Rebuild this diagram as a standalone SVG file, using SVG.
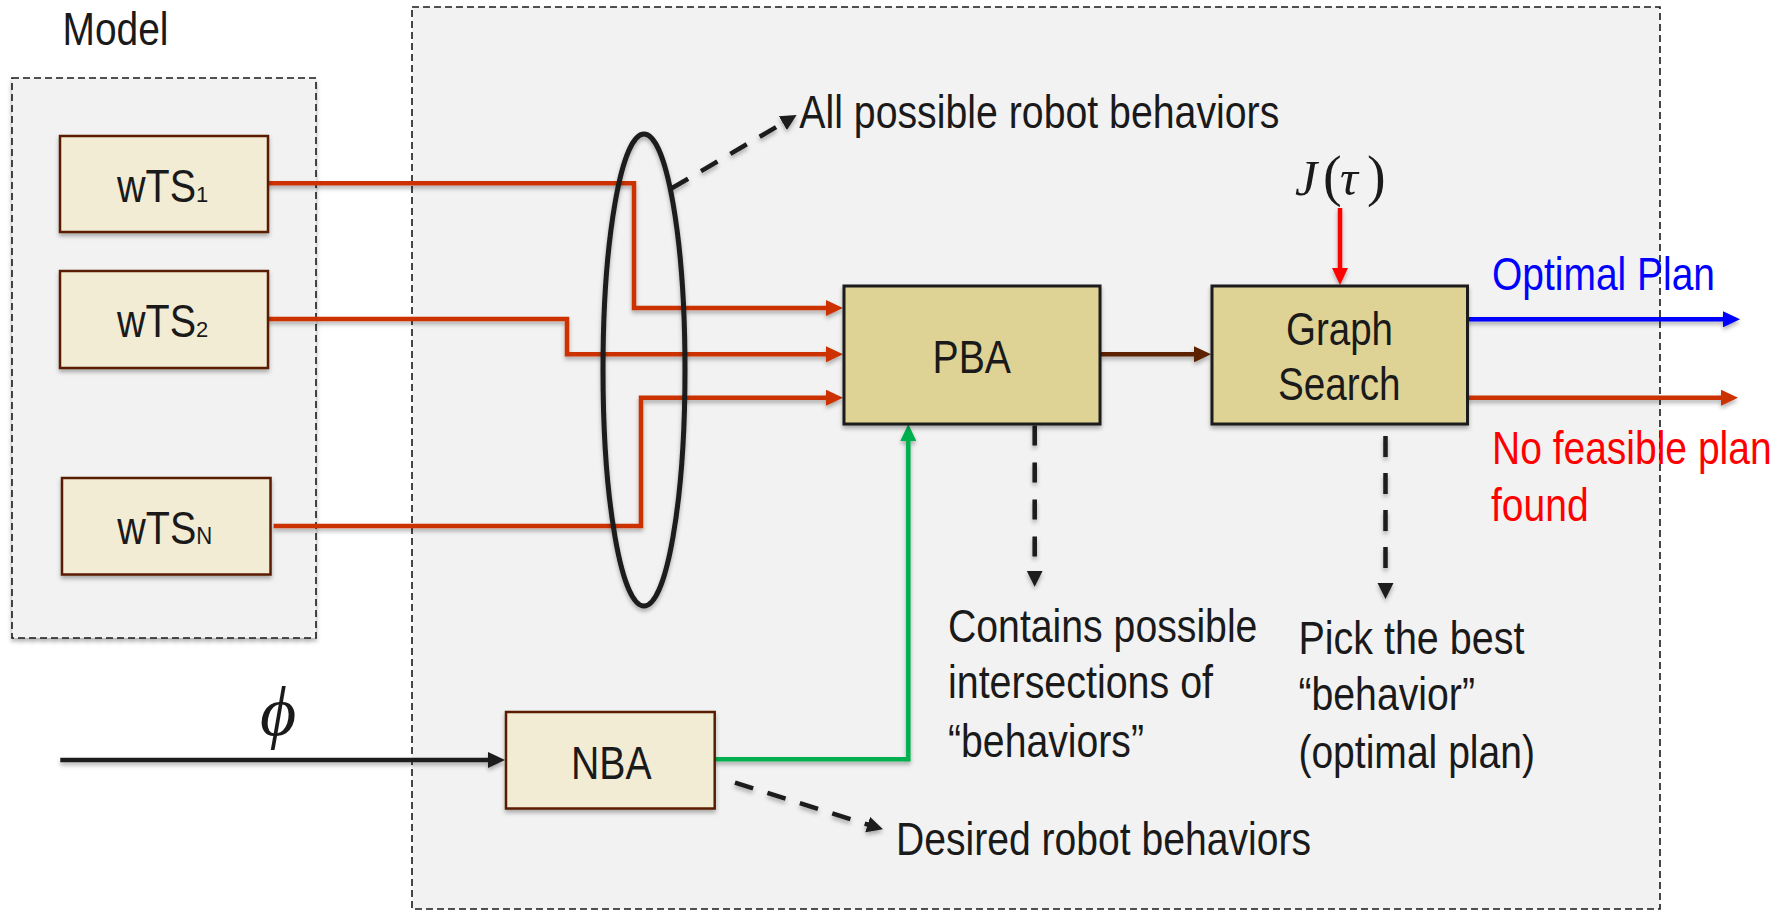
<svg xmlns="http://www.w3.org/2000/svg" width="1789" height="910" viewBox="0 0 1789 910">
  <defs>
    <!-- user-space region so that straight horizontal/vertical wires keep a non-empty filter area -->
    <filter id="shadow" filterUnits="userSpaceOnUse" x="0" y="0" width="1789" height="910">
      <feDropShadow dx="0" dy="3" stdDeviation="2" flood-color="#000" flood-opacity="0.3"/>
    </filter>
    <marker id="ah-orange" markerUnits="userSpaceOnUse" markerWidth="18" markerHeight="16" refX="5" refY="8" orient="auto">
      <path d="M0,0 L17,8 L0,16 z" fill="#cc3300"/>
    </marker>
    <marker id="ah-brown" markerUnits="userSpaceOnUse" markerWidth="18" markerHeight="16" refX="5" refY="8" orient="auto">
      <path d="M0,0 L17,8 L0,16 z" fill="#5c2000"/>
    </marker>
    <marker id="ah-blue" markerUnits="userSpaceOnUse" markerWidth="18" markerHeight="16" refX="5" refY="8" orient="auto">
      <path d="M0,0 L17,8 L0,16 z" fill="#0000ff"/>
    </marker>
    <marker id="ah-red" markerUnits="userSpaceOnUse" markerWidth="18" markerHeight="16" refX="5" refY="8" orient="auto">
      <path d="M0,0 L17,8 L0,16 z" fill="#ff0000"/>
    </marker>
    <marker id="ah-green" markerUnits="userSpaceOnUse" markerWidth="18" markerHeight="16" refX="5" refY="8" orient="auto">
      <path d="M0,0 L17,8 L0,16 z" fill="#00b050"/>
    </marker>
    <marker id="ah-black" markerUnits="userSpaceOnUse" markerWidth="18" markerHeight="16" refX="5" refY="8" orient="auto">
      <path d="M0,0 L17,8 L0,16 z" fill="#1a1a1a"/>
    </marker>
    <marker id="ah-dash" markerUnits="userSpaceOnUse" markerWidth="17" markerHeight="17" refX="4" refY="8" orient="auto">
      <path d="M0,0 L16,8 L0,16 z" fill="#1a1a1a"/>
    </marker>
  </defs>
  <style>
    .frame { fill: #f2f2f2; stroke: #1a1a1a; stroke-width: 1.6; stroke-dasharray: 7 4; }
    .box-light { fill: #f2ecd5; stroke: #5a1e00; stroke-width: 2.5; filter: url(#shadow); }
    .box-dark { fill: #dfd295; stroke: #1a1a1a; stroke-width: 3; filter: url(#shadow); }
    .lbl { font-family: "Liberation Sans", Arial, sans-serif; font-size: 46px; fill: #1a1a1a; }
    .sub { font-size: 22px; }
    .math { font-family: "Liberation Serif", "DejaVu Serif", serif; fill: #1a1a1a; }
    .wire { fill: none; stroke-width: 4.5; filter: url(#shadow); }
    .o { stroke: #cc3300; }
    .dash { fill: none; stroke: #1a1a1a; stroke-width: 4.5; filter: url(#shadow); }
  </style>

  <!-- page background -->
  <rect x="0" y="0" width="1789" height="910" fill="#ffffff"/>

  <!-- frames -->
  <rect id="model-frame" class="frame" x="12" y="78" width="304" height="560" style="filter:url(#shadow)"/>
  <rect id="planner-frame" class="frame" x="412" y="7" width="1248" height="902"/>
  <text class="lbl" x="62.5" y="45" font-size="45" textLength="106" lengthAdjust="spacingAndGlyphs">Model</text>

  <!-- connectors -->
  <g id="connectors">
    <path class="wire o" d="M268,183.3 H634 V308 H831" marker-end="url(#ah-orange)"/>
    <path class="wire o" d="M268,319 H567 V354.3 H831" marker-end="url(#ah-orange)"/>
    <path class="wire o" d="M273.6,526 H641 V397.7 H831" marker-end="url(#ah-orange)"/>
    <path class="wire" stroke="#5c2000" d="M1100,354.3 H1199" marker-end="url(#ah-brown)"/>
    <path class="wire" stroke="#ff0000" d="M1340,208 V273" marker-end="url(#ah-red)"/>
    <path class="wire" stroke="#0000ff" d="M1467,319.3 H1728" marker-end="url(#ah-blue)"/>
    <path class="wire o" d="M1467,397.7 H1726" marker-end="url(#ah-orange)"/>
    <path class="wire" stroke="#00b050" d="M714.7,759.3 H908.3 V436" marker-end="url(#ah-green)"/>
    <path class="wire" stroke="#1a1a1a" stroke-width="5" d="M60.3,760 H493" marker-end="url(#ah-black)"/>
    <path class="dash" stroke-dasharray="20 17" d="M1034.7,425.5 V574.7" marker-end="url(#ah-dash)"/>
    <path class="dash" stroke-dasharray="21 16" d="M1385.5,436 V587" marker-end="url(#ah-dash)"/>
    <path class="dash" stroke-dasharray="19 15" d="M735,782.7 L871.5,825.7" marker-end="url(#ah-dash)"/>
    <path class="dash" stroke-dasharray="19 15" d="M671.7,188.3 L786.3,121.1" marker-end="url(#ah-dash)"/>
  </g>

  <!-- grouping ellipse around the transition systems -->
  <g id="behavior-set">
    <ellipse cx="644" cy="370" rx="41" ry="236" fill="none" stroke="#1a1a1a" stroke-width="5" style="filter:url(#shadow)"/>
    <text class="lbl" x="799.3" y="127.7" textLength="480" lengthAdjust="spacingAndGlyphs">All possible robot behaviors</text>
  </g>

  <!-- transition systems -->
  <g id="wts1">
    <rect class="box-light" x="60" y="136" width="208" height="96"/>
    <text class="lbl" x="117" y="202" font-size="47"><tspan textLength="79" lengthAdjust="spacingAndGlyphs">wTS</tspan><tspan class="sub">1</tspan></text>
  </g>
  <g id="wts2">
    <rect class="box-light" x="60" y="271" width="208" height="97"/>
    <text class="lbl" x="117" y="336.7" font-size="47"><tspan textLength="79" lengthAdjust="spacingAndGlyphs">wTS</tspan><tspan class="sub">2</tspan></text>
  </g>
  <g id="wtsn">
    <rect class="box-light" x="62" y="478" width="208.5" height="96.5"/>
    <text class="lbl" x="117.3" y="544.3" font-size="47"><tspan textLength="79" lengthAdjust="spacingAndGlyphs">wTS</tspan><tspan font-size="23" textLength="16" lengthAdjust="spacingAndGlyphs">N</tspan></text>
  </g>

  <!-- product automaton -->
  <g id="pba">
    <rect class="box-dark" x="844" y="286" width="256" height="138"/>
    <text class="lbl" x="932.5" y="372.7" textLength="78.5" lengthAdjust="spacingAndGlyphs">PBA</text>
  </g>

  <!-- graph search -->
  <g id="graph-search">
    <rect class="box-dark" x="1212" y="286" width="255.5" height="138"/>
    <text class="lbl" x="1286" y="345" textLength="107" lengthAdjust="spacingAndGlyphs">Graph</text>
    <text class="lbl" x="1278" y="400" textLength="122.6" lengthAdjust="spacingAndGlyphs">Search</text>
  </g>

  <!-- cost function -->
  <g id="cost">
    <text class="math" y="195" font-size="50">
      <tspan x="1295" font-style="italic">J</tspan><tspan x="1323" font-size="56">(</tspan><tspan x="1340" font-style="italic">τ</tspan><tspan x="1367" font-size="56">)</tspan>
    </text>
  </g>

  <!-- Büchi automaton -->
  <g id="nba">
    <rect class="box-light" x="506" y="712" width="208.7" height="96.5"/>
    <text class="lbl" x="571" y="779" font-size="47" textLength="80.6" lengthAdjust="spacingAndGlyphs">NBA</text>
  </g>

  <!-- specification input -->
  <g id="spec">
    <text class="math" x="278" y="735" font-size="70" font-style="italic" text-anchor="middle">ϕ</text>
  </g>

  <!-- outputs -->
  <g id="outputs">
    <text class="lbl" x="1492" y="290" style="fill:#0000ff" textLength="223" lengthAdjust="spacingAndGlyphs">Optimal Plan</text>
    <text class="lbl" x="1492" y="464.3" style="fill:#ff0000" textLength="279.6" lengthAdjust="spacingAndGlyphs">No feasible plan</text>
    <text class="lbl" x="1491" y="520.7" style="fill:#ff0000" textLength="97.6" lengthAdjust="spacingAndGlyphs">found</text>
  </g>

  <!-- annotations -->
  <g id="pba-note">
    <text class="lbl" x="948" y="641.7" textLength="309.4" lengthAdjust="spacingAndGlyphs">Contains possible</text>
    <text class="lbl" x="948" y="698.3" textLength="265" lengthAdjust="spacingAndGlyphs">intersections of</text>
    <text class="lbl" x="948" y="756.7" textLength="196" lengthAdjust="spacingAndGlyphs">“behaviors”</text>
  </g>
  <g id="search-note">
    <text class="lbl" x="1298.4" y="654.3" textLength="226" lengthAdjust="spacingAndGlyphs">Pick the best</text>
    <text class="lbl" x="1298.4" y="710" textLength="176.6" lengthAdjust="spacingAndGlyphs">“behavior”</text>
    <text class="lbl" x="1298.4" y="768.3" textLength="236.6" lengthAdjust="spacingAndGlyphs">(optimal plan)</text>
  </g>
  <g id="nba-note">
    <text class="lbl" x="896" y="855" textLength="415" lengthAdjust="spacingAndGlyphs">Desired robot behaviors</text>
  </g>
</svg>
